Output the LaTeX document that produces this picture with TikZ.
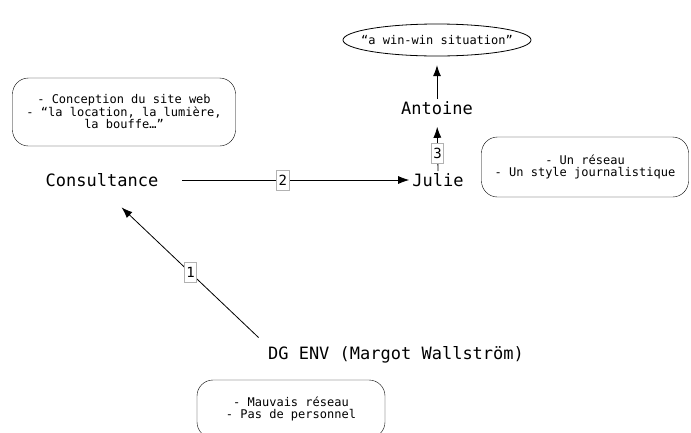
\documentclass[tikz,border=0pt]{standalone}
\usepackage{fontspec}
\setmonofont{DejaVu Sans Mono}
\usetikzlibrary{arrows.meta}

\begin{document}
\begin{tikzpicture}[x=1pt,y=-1pt,
thin,main node/.style = {inner sep = 2pt, font=\ttfamily\fontsize{17}{19}\selectfont},
note node/.style = {draw, rounded corners = 16pt, align = center, inner sep = 0pt, font=\ttfamily\fontsize{12}{12.5}\selectfont},
num node/.style = {draw = gray!60, fill = white, inner sep = 2pt, minimum height = 20pt, font=\ttfamily\fontsize{14}{14}\selectfont}]

\clip[use as bounding box] (0,0) rectangle (691,432);

\node[main node] at (102,180) (1) {Consultance};
\node[main node] at (438,180) (2) {Julie};
\node[main node] at (437,108) (3) {Antoine};
\node[inner sep = 0pt, minimum height = 32pt, font=\ttfamily\fontsize{12}{12.5}\selectfont] at (437,40) (4) {“a win-win situation”};
\node[main node] at (396,355) (5) {DG ENV (Margot Wallström)};
\node[note node, minimum width = 223pt, minimum height = 68pt] at (124,112) (6) {- Conception du site web\\- “la location, la lumière,\\la bouffe…”};
\node[note node, minimum width = 207pt, minimum height = 60pt] at (585,167) (7) {- Un réseau\\- Un style journalistique};
\node[note node, minimum width = 188pt, minimum height = 58pt] at (291,409) (8) {- Mauvais réseau\\- Pas de personnel};
\draw[line width = 0.8pt] (4.center) ellipse [x radius = 94, y radius = 16];

\path[-{Latex[length=11pt,width=8pt]}, line width = 0.8pt, shorten >=1pt]
(1.east) edge[shorten <=22pt] node[num node, pos = 0.49] {2} (2.west)
(5.north west) edge[shorten <=10pt, shorten >=27pt] node[num node, pos = 0.46] {1} (1.south)
(2.north) edge[shorten >=10pt] node[num node, pos = 0.33] {3} (3.south)
(3.north) edge[shorten >=9pt] (4.south);
\end{tikzpicture}
\end{document}
